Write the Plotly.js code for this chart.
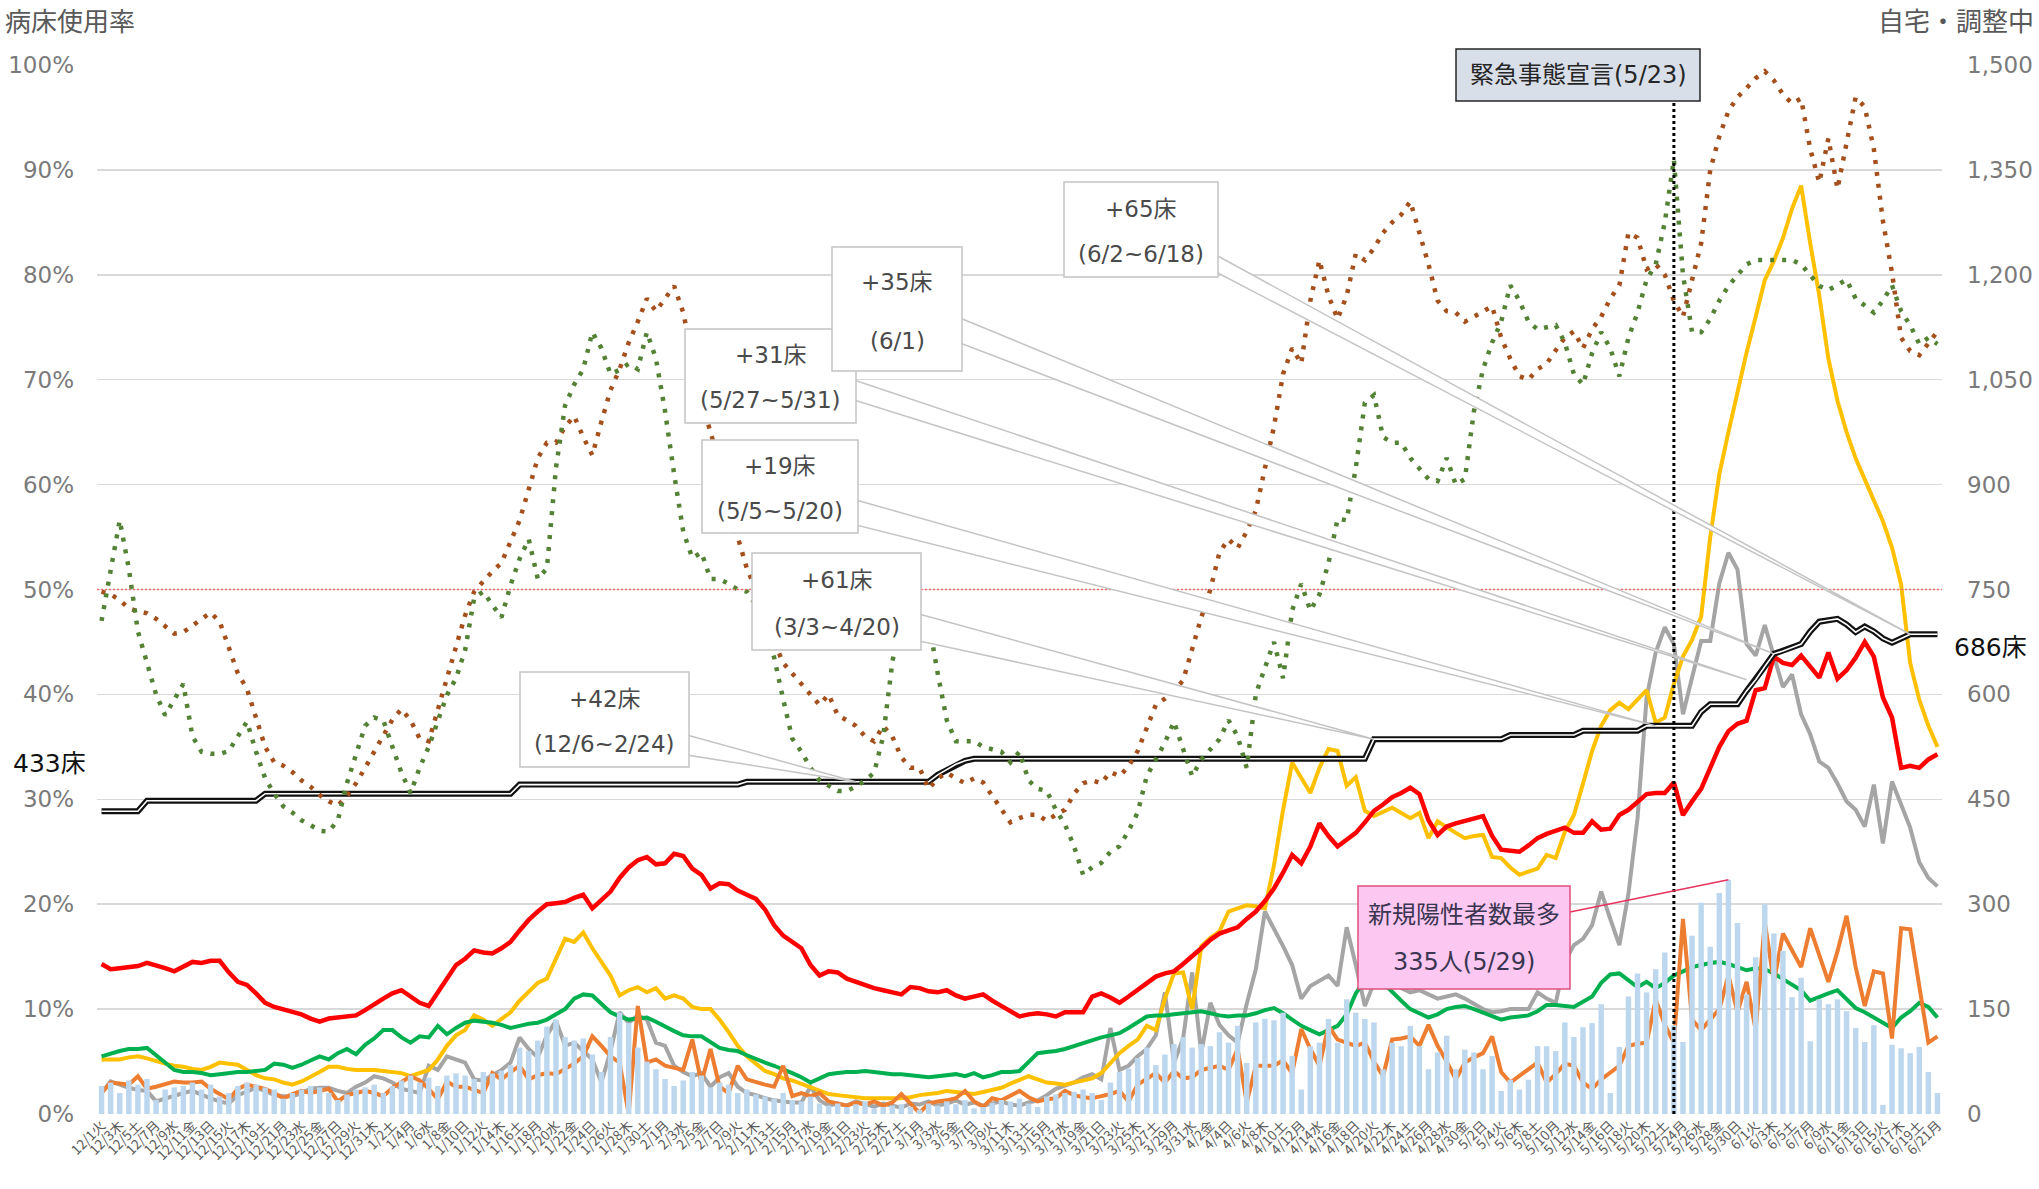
<!DOCTYPE html>
<html><head><meta charset="utf-8">
<script src="https://cdn.plot.ly/plotly-3.0.1.min.js"></script>
<style>html,body{margin:0;padding:0;background:#fff;}#chart{width:2039px;height:1189px;}</style>
</head><body><div id="chart"></div>
<script>
// ---- categories: daily dates 2020/12/1 (Tue) .. 2021/6/21 (Mon)
const weekdayChars = ['日','月','火','水','木','金','土'];
const dates = Array.from({length: 203}, (_, i) => {
  const d = new Date(2020, 11, 1 + i);
  return (d.getMonth() + 1) + '/' + d.getDate() + weekdayChars[d.getDay()];
});
const tickDates = dates.filter((_, i) => i % 2 === 0);

// ---- left axis (%) series
const bedRate = [14.3,13.8,13.9,14.0,14.1,14.4,14.2,13.9,13.6,14.1,
14.5,14.4,14.6,14.6,13.5,12.6,12.3,11.5,10.6,10.2,
10.0,9.8,9.5,9.1,8.8,9.1,9.2,9.3,9.4,9.9,
10.5,11.0,11.5,11.8,11.2,10.6,10.3,11.6,12.8,14.2,
14.8,15.6,15.4,15.3,15.8,16.4,17.5,18.5,19.3,20.0,
20.1,20.2,20.6,20.9,19.6,20.4,21.2,22.5,23.5,24.2,
24.5,23.8,23.9,24.8,24.6,23.4,22.8,21.5,22.0,21.9,
21.3,20.9,20.5,19.5,18.0,17.0,16.4,15.8,14.2,13.2,
13.6,13.5,12.9,12.6,12.2,12.0,11.8,11.6,11.4,12.1,
12.0,11.7,11.6,11.8,11.3,11.0,11.2,11.4,10.8,10.3,
9.8,9.3,9.5,9.6,9.5,9.3,9.7,9.7,9.7,11.2,
11.5,11.1,10.6,11.2,11.8,12.4,13.1,13.4,13.6,14.3,
15.0,15.8,16.6,17.2,17.5,17.8,18.6,19.3,20.3,21.5,
23.0,24.7,23.9,25.5,27.7,26.5,25.5,26.2,26.8,27.8,
28.9,29.5,30.2,30.6,31.1,30.5,28.0,26.6,27.4,27.7,
27.9,28.1,28.4,26.5,25.2,25.1,25.0,25.6,26.3,26.7,
27.0,27.3,26.8,26.8,27.9,27.1,27.2,28.5,29.0,29.8,
30.5,30.6,30.6,31.6,28.5,29.8,31.0,33.0,35.0,36.5,
37.2,37.5,40.4,40.6,43.6,43.0,42.8,43.7,42.7,41.6,
44.0,41.5,42.3,43.5,45.0,43.6,39.7,37.8,33.0,33.2,
33.0,33.8,34.3];

const greenRate = [5.5,5.8,6.0,6.2,6.2,6.3,5.6,4.8,4.2,4.0,
4.0,3.9,3.7,3.8,3.9,4.0,4.0,4.1,4.2,4.8,
4.7,4.4,4.7,5.1,5.5,5.2,5.8,6.2,5.7,6.6,
7.2,8.0,8.0,7.3,6.8,7.4,7.3,8.4,7.6,8.2,
8.7,8.9,8.8,8.7,8.5,8.2,8.4,8.6,8.7,9.0,
9.5,10.0,11.0,11.4,11.3,10.5,9.7,9.3,9.0,9.1,
9.2,8.8,8.3,7.9,7.5,7.4,7.4,6.9,6.3,6.1,
6.0,5.6,5.2,4.9,4.6,4.3,3.9,3.5,3.0,3.4,
3.8,3.9,4.0,4.0,4.1,4.0,3.9,3.8,3.8,3.7,
3.6,3.5,3.6,3.7,3.8,3.6,3.9,3.5,3.7,4.0,
4.0,4.1,5.0,5.8,5.9,6.0,6.2,6.5,6.8,7.1,
7.3,7.5,7.7,8.2,8.8,9.3,9.4,9.4,9.5,9.6,
9.7,9.8,9.6,9.4,9.3,9.4,9.4,9.6,9.9,10.1,
9.6,9.0,8.4,8.0,7.6,8.0,8.4,9.5,11.5,12.8,
13.0,12.5,11.6,10.8,10.0,9.6,9.2,9.5,10.0,10.2,
10.3,10.0,9.7,9.4,9.0,9.2,9.3,9.4,9.8,10.4,
10.4,10.3,10.2,10.7,11.2,12.5,13.3,13.4,12.8,12.1,
12.6,12.0,12.5,13.2,13.6,14.0,14.2,14.4,14.5,14.3,
14.0,13.7,13.9,13.8,13.4,12.9,12.4,11.8,10.8,11.2,
11.5,11.8,11.0,10.1,9.7,9.2,8.7,8.2,9.2,9.8,
10.6,10.2,9.2];

const yellowRate = [5.2,5.2,5.2,5.4,5.5,5.3,5.0,4.8,4.6,4.5,
4.3,4.2,4.5,4.9,4.8,4.7,4.2,3.7,3.4,3.3,
3.0,2.8,3.1,3.5,4.0,4.5,4.5,4.3,4.2,4.2,
4.2,4.1,4.0,3.9,3.6,3.9,4.2,5.2,6.5,7.5,
8.0,9.4,9.0,8.4,9.0,9.7,10.8,11.6,12.5,12.9,
14.8,16.7,16.4,17.3,15.8,14.5,13.2,11.3,11.8,12.1,
11.6,12.0,11.0,11.3,11.0,10.2,10.0,10.0,9.0,7.8,
6.5,5.5,4.8,4.1,3.8,3.4,3.2,2.9,2.6,2.3,
1.9,1.8,1.7,1.6,1.5,1.5,1.5,1.5,1.5,1.6,
1.8,1.9,2.0,2.2,2.1,2.0,1.9,2.1,2.3,2.5,
2.9,3.3,3.6,3.3,3.0,2.9,2.8,3.0,3.2,3.4,
3.9,4.8,5.8,6.5,7.1,8.4,8.0,11.0,13.4,13.5,
10.0,16.0,16.8,17.4,19.3,19.6,19.9,19.8,19.6,23.7,
29.0,33.5,32.0,30.6,33.0,34.8,34.6,31.3,32.1,28.9,
28.4,28.8,29.2,28.7,28.2,28.7,26.3,27.9,27.3,26.8,
26.3,26.5,26.6,24.5,24.4,23.5,22.8,23.1,23.4,24.7,
24.4,26.9,28.5,31.5,34.6,37.0,38.5,39.2,38.6,39.5,
40.4,37.3,37.8,41.0,43.6,45.2,47.4,55.0,61.0,65.0,
69.0,72.6,76.0,79.5,81.3,83.5,86.3,88.5,83.0,78.0,
72.0,68.0,65.0,62.5,60.5,58.5,56.5,54.0,50.5,43.0,
39.5,37.0,35.0];

const grayRate = [2.0,3.1,2.8,2.5,2.3,2.2,1.2,1.5,1.8,2.0,
2.2,1.8,1.5,1.2,1.0,1.8,2.2,2.5,2.2,1.8,
1.7,1.7,2.0,2.4,2.5,2.5,2.2,2.0,2.6,3.0,
3.6,3.4,3.0,2.4,2.2,2.0,4.6,4.2,5.5,5.2,
4.9,3.3,3.2,3.7,4.2,4.9,7.3,6.2,5.4,7.5,
8.9,6.5,6.8,6.0,5.2,3.0,6.0,9.7,8.7,9.4,
9.0,6.8,6.5,4.6,4.0,3.6,3.9,2.6,3.5,3.9,
2.6,2.0,1.8,1.5,1.3,1.2,1.1,1.1,2.6,1.3,
0.8,1.0,0.8,1.2,0.9,0.7,1.0,0.8,0.6,1.0,
0.9,1.2,0.8,1.0,1.3,0.9,1.1,0.8,1.0,1.2,
0.9,0.8,1.1,1.3,1.8,2.4,2.7,3.0,3.5,3.8,
3.3,8.2,4.2,4.6,5.5,6.2,7.5,11.6,4.9,7.2,
13.5,5.8,10.6,8.5,7.5,6.8,10.5,13.8,19.3,17.7,
16.0,14.2,11.0,12.2,12.7,13.2,12.2,17.8,14.2,10.3,
12.5,13.0,12.8,12.0,11.6,11.8,11.4,11.0,11.2,11.4,
11.0,10.5,10.0,9.7,9.8,10.0,10.0,10.0,11.6,11.0,
10.6,14.5,16.1,16.7,18.0,21.2,18.6,16.1,21.0,28.2,
39.7,44.0,46.4,44.8,38.1,41.6,45.1,45.1,50.6,53.5,
51.9,44.8,43.7,46.6,43.6,40.7,41.9,38.1,36.2,33.6,
33.0,31.5,29.8,29.0,27.4,31.4,25.8,31.7,29.5,27.3,
24.0,22.5,21.7];

const orangeRate = [2.0,3.0,2.9,2.8,3.6,2.4,2.6,2.9,3.1,3.0,
3.0,3.1,2.4,1.9,1.4,2.4,2.8,2.6,2.4,2.0,
1.5,1.9,2.2,2.0,2.2,2.4,1.2,1.8,2.0,2.2,
2.0,1.7,2.5,3.0,3.6,3.2,2.4,1.4,3.1,2.6,
2.6,2.3,2.0,3.9,3.3,4.0,4.6,3.3,3.7,3.9,
3.8,4.3,4.8,5.5,7.4,6.5,5.5,4.9,0.0,10.3,
4.9,5.2,4.6,4.4,4.2,7.1,3.0,6.2,2.6,2.0,
4.6,3.3,3.0,2.8,2.6,4.6,1.7,2.0,1.7,2.0,
1.2,1.0,0.8,1.1,0.9,1.2,0.8,1.1,1.9,1.0,
0.1,1.0,1.2,1.3,1.5,2.2,1.2,0.7,1.5,1.3,
1.8,2.2,1.6,1.2,1.4,1.5,2.2,1.8,1.6,1.5,
1.7,1.9,2.2,1.2,2.8,3.3,3.9,3.0,4.1,3.4,
3.5,4.2,4.4,4.6,4.2,6.2,1.1,4.6,4.6,4.6,
5.1,3.9,8.1,6.2,4.6,8.4,7.1,6.8,6.5,6.8,
5.0,3.6,7.1,7.2,7.4,6.5,8.5,6.5,5.0,3.3,
4.9,5.4,5.8,7.4,4.0,3.0,3.6,4.2,4.9,3.0,
3.8,4.8,4.6,3.0,2.4,3.3,4.0,4.6,6.5,6.7,
6.8,10.9,8.5,6.8,18.6,9.0,8.0,9.0,10.0,13.2,
9.7,12.6,8.0,18.3,12.6,17.2,15.5,14.0,17.7,15.0,
12.6,15.5,18.9,14.0,10.3,13.6,13.4,7.2,17.7,17.6,
12.0,6.8,7.4];

// ---- right axis (persons / beds) series
const newPositives = [40,45,30,48,42,50,20,35,38,40,45,35,42,25,30,40,45,42,38,35,
22,30,35,40,38,30,20,28,35,38,42,30,40,48,55,45,52,40,55,58,
55,50,60,58,62,70,95,90,105,125,135,110,105,108,85,60,110,145,130,95,
75,64,50,40,48,60,55,38,45,42,30,35,28,25,22,30,20,18,25,15,
12,15,10,14,18,8,10,12,14,10,6,15,12,18,14,20,8,10,16,20,
18,22,15,10,25,28,30,32,35,30,20,45,60,65,80,95,70,85,100,110,
95,100,
97,117,102,126,73,131,136,134,145,83,35,97,102,136,102,164,145,136,131,64,
102,97,126,97,64,88,112,64,92,88,64,83,33,49,35,49,97,97,90,131,
110,124,130,157,30,96,168,201,174,207,231,127,103,255,302,239,316,335,273,171,
224,300,258,233,167,195,104,164,157,164,147,123,103,127,13,99,94,87,96,60,
30];

const homeCare = [747,743,735,723,719,716,708,698,687,689,
698,708,717,704,668,630,608,567,525,503,
498,489,477,468,456,447,441,455,473,495,
518,540,564,579,563,537,533,578,623,668,
713,747,762,776,788,818,849,893,938,960,
960,983,998,968,942,990,1035,1065,1103,1133,
1166,1148,1166,1184,1146,1080,1020,975,930,870,
825,780,750,705,675,645,630,615,600,585,
600,570,563,555,540,533,555,540,510,495,
495,465,480,488,480,473,480,474,455,435,
417,423,428,428,419,428,435,458,473,477,
473,489,483,497,519,552,585,594,605,620,
668,710,750,803,822,809,833,863,923,983,
1058,1095,1073,1163,1221,1170,1137,1170,1230,1221,
1238,1260,1275,1286,1305,1260,1215,1163,1148,1146,
1133,1140,1148,1155,1110,1080,1055,1050,1065,1073,
1092,1110,1119,1095,1122,1140,1166,1185,1260,1253,
1208,1215,1200,1163,1140,1193,1245,1350,1398,1434,
1454,1467,1481,1491,1478,1458,1445,1452,1380,1332,
1395,1323,1389,1454,1440,1380,1277,1203,1110,1091,
1085,1103,1119];

const adjusting = [705,776,849,780,690,645,600,570,593,615,
540,518,515,515,519,540,561,518,480,458,
440,431,420,413,405,404,420,473,515,555,
567,563,525,488,459,495,525,561,599,623,
663,738,747,728,710,756,794,822,765,780,
924,1013,1043,1065,1118,1095,1058,1064,1073,1065,
1118,1080,1005,915,833,795,803,765,765,758,
750,747,728,690,653,593,537,518,495,477,
470,462,462,468,477,488,540,645,720,698,
690,705,630,563,533,533,533,525,522,518,
503,518,477,465,462,435,414,383,342,353,
359,375,383,405,431,483,507,531,561,521,
483,507,521,536,563,540,495,600,638,675,
623,720,758,720,743,788,851,849,924,1017,
1028,968,960,960,938,923,908,905,938,900,
908,1005,1065,1103,1133,1185,1163,1133,1122,1125,
1128,1103,1058,1043,1088,1118,1095,1055,1110,1146,
1193,1215,1275,1365,1200,1118,1118,1137,1163,1184,
1200,1215,1221,1221,1221,1221,1221,1215,1200,1184,
1178,1185,1193,1166,1155,1146,1163,1185,1148,1128,
1101,1110,1101];

const beds = [433,433,433,433,433,
448,448,448,448,448,448,448,448,448,448,448,448,448,
458,458,458,458,458,458,458,458,458,458,458,458,458,458,458,458,458,458,458,458,458,458,458,458,458,458,458,458,
471,471,471,471,471,471,471,471,471,471,471,471,471,471,471,471,471,471,471,471,471,471,471,471,471,
475,475,475,475,475,475,475,475,475,475,475,475,475,475,475,475,475,475,475,475,475,
485,492,500,505,
508,508,508,508,508,508,508,508,508,508,508,508,508,508,508,508,508,508,508,508,508,508,
508,508,508,508,508,508,508,508,508,508,508,508,508,508,508,508,508,508,508,508,508,508,
536,536,536,536,536,536,536,536,536,536,536,536,536,536,536,
542,542,542,542,542,542,542,542,
548,548,548,548,548,548,548,
555,555,555,555,555,555,
575,586,586,586,586,
605,621,640,658,662,667,672,690,704,706,708,700,689,697,690,680,674,680,686,686,686,686];

// ---- callout labels
const emergencyLabel = '緊急事態宣言(5/23)';
const emergencyDay = 173;
const peakLabel = ['新規陽性者数最多', '335人(5/29)'];
const peakDay = 179;
const callouts = [
  {t1:'+42床', t2:'(12/6~2/24)', box:[520,672,689,767], base:[735,755], day:83, val:beds[83]},
  {t1:'+61床', t2:'(3/3~4/20)', box:[752,553,921,650], base:[614,641], day:140, val:beds[140]},
  {t1:'+19床', t2:'(5/5~5/20)', box:[702,440,858,533], base:[500,525], day:171, val:beds[171]},
  {t1:'+31床', t2:'(5/27~5/31)', box:[685,329,856,423], base:[380,400], day:181, val:beds[182]},
  {t1:'+35床', t2:'(6/1)', box:[832,247,962,371], base:[318,343], day:184, val:beds[184]},
  {t1:'+65床', t2:'(6/2~6/18)', box:[1064,182,1218,277], base:[255,272], day:199, val:beds[199]}
];

// ---- layout geometry (pixels of the 2039x1189 page)
const M = {l:97, r:97, t:65, b:75};
const PW = 2039 - M.l - M.r, PH = 1189 - M.t - M.b;
const fx = X => (X - M.l) / PW;
const fy = Y => (1189 - M.b - Y) / PH;
const dayX = d => (d + 0.5) / 203;          // paper x of a category
const rightY = v => v / 1500;               // paper y of right-axis value

const FONT = '"DejaVu Sans", "Noto Sans CJK JP", sans-serif';
const CJK = '"Noto Sans CJK JP", "DejaVu Sans", sans-serif';

const lineTrace = (y, color, width, axis, dash) => ({
  type:'scatter', mode:'lines', x:dates, y:y, yaxis:axis,
  line:{color:color, width:width, dash:dash || 'solid'}, hoverinfo:'skip'
});

const traces = [
  {type:'bar', x:dates, y:newPositives, yaxis:'y2', marker:{color:'#bdd7ee'}, hoverinfo:'skip'},
  lineTrace(beds, '#111111', 6, 'y2'),
  lineTrace(beds, '#ffffff', 1.6, 'y2'),
  lineTrace(homeCare, '#a5501c', 4.5, 'y2', '4px,8px'),
  lineTrace(adjusting, '#548235', 4.5, 'y2', '4px,8px'),
  lineTrace(grayRate, '#a5a5a5', 4, 'y'),
  lineTrace(yellowRate, '#ffc000', 4, 'y'),
  lineTrace(greenRate, '#00b050', 4, 'y'),
  lineTrace(orangeRate, '#ed7d31', 4, 'y'),
  lineTrace(bedRate, '#ff0000', 4.5, 'y')
];

const shapes = [];
const annotations = [];

// 50% red dotted reference line
shapes.push({type:'line', xref:'paper', x0:0, x1:1, yref:'y', y0:50, y1:50,
  line:{color:'#ff6b6b', width:1.5, dash:'2px,2px'}, layer:'above'});

// emergency declaration vertical dotted line and label box
shapes.push({type:'line', xref:'paper', x0:dayX(emergencyDay), x1:dayX(emergencyDay),
  yref:'paper', y0:0, y1:fy(101), line:{color:'#000', width:3, dash:'dot'}, layer:'above'});
shapes.push({type:'rect', xref:'paper', yref:'paper', x0:fx(1456), x1:fx(1700), y0:fy(101), y1:fy(49),
  fillcolor:'#d9dfe9', line:{color:'#262626', width:1.5}, layer:'above'});
annotations.push({xref:'paper', yref:'paper', x:fx(1578), y:fy(75), text:emergencyLabel, showarrow:false,
  font:{family:FONT, size:24, color:'#262626'}, xanchor:'center', yanchor:'middle'});

// bed increase callouts (wedge + box + two text lines)
callouts.forEach(c => {
  const [bx0, by0, bx1, by1] = c.box;
  const ax = dayX(c.day), ay = rightY(c.val);
  shapes.push({type:'path', xref:'paper', yref:'paper',
    path:`M ${fx(bx1-2)},${fy(c.base[0])} L ${ax},${ay} L ${fx(bx1-2)},${fy(c.base[1])} Z`,
    fillcolor:'#ffffff', line:{color:'#c4c4c4', width:1.5}, layer:'above'});
  shapes.push({type:'rect', xref:'paper', yref:'paper', x0:fx(bx0), x1:fx(bx1), y0:fy(by1), y1:fy(by0),
    fillcolor:'#ffffff', line:{color:'#c4c4c4', width:1.5}, layer:'above'});
  const cx = (bx0 + bx1) / 2, h = by1 - by0;
  annotations.push({xref:'paper', yref:'paper', x:fx(cx), y:fy(by0 + h*0.28), text:c.t1, showarrow:false,
    font:{family:FONT, size:23, color:'#4a4a4a'}, xanchor:'center', yanchor:'middle'});
  annotations.push({xref:'paper', yref:'paper', x:fx(cx), y:fy(by0 + h*0.76), text:c.t2, showarrow:false,
    font:{family:FONT, size:23, color:'#4a4a4a'}, xanchor:'center', yanchor:'middle'});
});

// peak new positives callout
shapes.push({type:'line', xref:'paper', yref:'paper', x0:fx(1570), y0:fy(912),
  x1:dayX(peakDay), y1:rightY(newPositives[peakDay]), line:{color:'#e8335e', width:1.5}, layer:'above'});
shapes.push({type:'rect', xref:'paper', yref:'paper', x0:fx(1358), x1:fx(1570), y0:fy(989), y1:fy(886),
  fillcolor:'#fcc8f1', line:{color:'#e0507e', width:1.5}, layer:'above'});
annotations.push({xref:'paper', yref:'paper', x:fx(1464), y:fy(912), text:peakLabel[0], showarrow:false,
  font:{family:CJK, size:24, color:'#3a3550'}, xanchor:'center', yanchor:'middle'});
annotations.push({xref:'paper', yref:'paper', x:fx(1464), y:fy(962), text:peakLabel[1], showarrow:false,
  font:{family:FONT, size:24, color:'#3a3550'}, xanchor:'center', yanchor:'middle'});

// bed count labels
annotations.push({xref:'paper', yref:'paper', x:fx(11), y:fy(763), text:beds[0] + '床', showarrow:false,
  font:{family:FONT, size:25, color:'#111'}, xanchor:'left', yanchor:'middle'});
annotations.push({xref:'paper', yref:'paper', x:fx(1952), y:fy(647), text:beds[202] + '床', showarrow:false,
  font:{family:FONT, size:25, color:'#111'}, xanchor:'left', yanchor:'middle'});

// axis titles
annotations.push({xref:'paper', yref:'paper', x:fx(3), y:fy(20), text:'病床使用率', showarrow:false,
  font:{family:CJK, size:26, color:'#595959'}, xanchor:'left', yanchor:'middle'});
annotations.push({xref:'paper', yref:'paper', x:fx(2036), y:fy(20), text:'自宅・調整中', showarrow:false,
  font:{family:CJK, size:26, color:'#595959'}, xanchor:'right', yanchor:'middle'});

const layout = {
  width:2039, height:1189,
  margin:M,
  paper_bgcolor:'#ffffff', plot_bgcolor:'#ffffff',
  showlegend:false, hovermode:false,
  bargap:0.4,
  font:{family:FONT, color:'#595959'},
  xaxis:{type:'category', range:[-0.5, 202.5], tickmode:'array', tickvals:tickDates, ticktext:tickDates,
    tickangle:-45, tickfont:{family:CJK, size:13.5, color:'#595959'}, showgrid:false, showline:false,
    zeroline:false, ticks:'', fixedrange:true},
  yaxis:{range:[0, 100], tickmode:'linear', tick0:0, dtick:10, ticksuffix:'%',
    tickfont:{family:FONT, size:23, color:'#7a7a7a'}, gridcolor:'#d9d9d9', gridwidth:1.5,
    zeroline:false, showline:false, ticks:'', ticklabelstandoff:22, fixedrange:true},
  yaxis2:{range:[0, 1500], overlaying:'y', side:'right', tickmode:'linear', tick0:0, dtick:150,
    tickformat:',d', tickfont:{family:FONT, size:23, color:'#7a7a7a'}, showgrid:false,
    zeroline:false, showline:false, ticks:'', ticklabelstandoff:24, fixedrange:true},
  shapes:shapes,
  annotations:annotations
};

Plotly.newPlot('chart', traces, layout, {staticPlot:true, displayModeBar:false});
</script>
</body></html>
